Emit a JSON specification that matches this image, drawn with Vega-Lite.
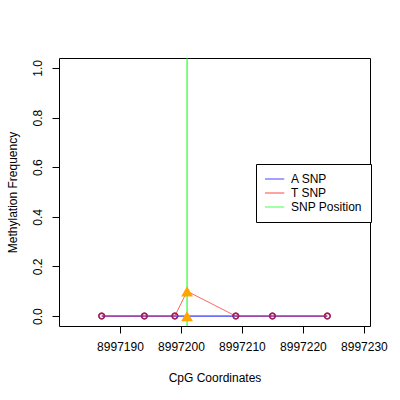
{
  "$schema": "https://vega.github.io/schema/vega-lite/v6.json",
  "autosize": "none",
  "width": 311,
  "height": 268,
  "padding": {"left": 59, "top": 58, "right": 30, "bottom": 74},
  "background": "white",
  "config": {
    "font": "Liberation Sans",
    "view": {"stroke": "black", "strokeWidth": 1},
    "axis": {
      "domain": false,
      "grid": false,
      "tickColor": "black",
      "tickSize": 7,
      "labelFont": "Liberation Sans",
      "labelFontSize": 12,
      "labelColor": "black",
      "titleFont": "Liberation Sans",
      "titleFontSize": 12,
      "titleFontWeight": "normal",
      "titleColor": "black"
    },
    "legend": {
      "labelFont": "Liberation Sans",
      "labelFontSize": 12,
      "labelColor": "black"
    }
  },
  "datasets": {
    "cpg": [
      {"pos": 8997187, "series": "A SNP", "value": 0},
      {"pos": 8997194, "series": "A SNP", "value": 0},
      {"pos": 8997199, "series": "A SNP", "value": 0},
      {"pos": 8997201, "series": "A SNP", "value": 0},
      {"pos": 8997209, "series": "A SNP", "value": 0},
      {"pos": 8997215, "series": "A SNP", "value": 0},
      {"pos": 8997224, "series": "A SNP", "value": 0},
      {"pos": 8997187, "series": "T SNP", "value": 0},
      {"pos": 8997194, "series": "T SNP", "value": 0},
      {"pos": 8997199, "series": "T SNP", "value": 0},
      {"pos": 8997201, "series": "T SNP", "value": 0.1},
      {"pos": 8997209, "series": "T SNP", "value": 0},
      {"pos": 8997215, "series": "T SNP", "value": 0},
      {"pos": 8997224, "series": "T SNP", "value": 0}
    ],
    "snp": [{"pos": 8997201, "label": "SNP Position"}]
  },
  "layer": [
    {
      "data": {"name": "snp"},
      "mark": {"type": "rule", "strokeWidth": 1},
      "encoding": {
        "x": {"field": "pos", "type": "quantitative", "title": "CpG Coordinates"},
        "color": {"field": "label", "type": "nominal"}
      }
    },
    {
      "data": {"name": "cpg"},
      "transform": [{"filter": "datum.series == 'A SNP'"}],
      "mark": {"type": "line", "strokeWidth": 1},
      "encoding": {
        "x": {"field": "pos", "type": "quantitative", "title": "CpG Coordinates"},
        "y": {"field": "value", "type": "quantitative", "title": "Methylation Frequency"},
        "color": {"field": "series", "type": "nominal"},
        "order": {"field": "pos"}
      }
    },
    {
      "data": {"name": "cpg"},
      "transform": [{"filter": "datum.series == 'T SNP'"}],
      "mark": {"type": "line", "strokeWidth": 1, "opacity": 0.6},
      "encoding": {
        "x": {"field": "pos", "type": "quantitative", "title": "CpG Coordinates"},
        "y": {"field": "value", "type": "quantitative", "title": "Methylation Frequency"},
        "color": {"field": "series", "type": "nominal"},
        "order": {"field": "pos"}
      }
    },
    {
      "data": {"name": "cpg"},
      "transform": [{"filter": "datum.pos != 8997201"}],
      "mark": {"type": "point", "shape": "circle", "filled": false, "size": 32, "strokeWidth": 1.3, "color": "#a0205a", "opacity": 1},
      "encoding": {
        "x": {"field": "pos", "type": "quantitative", "title": "CpG Coordinates"},
        "y": {"field": "value", "type": "quantitative", "title": "Methylation Frequency"}
      }
    },
    {
      "data": {"name": "cpg"},
      "transform": [{"filter": "datum.pos == 8997201"}],
      "mark": {"type": "point", "shape": "triangle-up", "filled": true, "size": 140, "color": "#ffa500", "opacity": 1},
      "encoding": {
        "x": {"field": "pos", "type": "quantitative", "title": "CpG Coordinates"},
        "y": {"field": "value", "type": "quantitative", "title": "Methylation Frequency"}
      }
    },
    {
      "data": {"name": "cpg"},
      "mark": {"type": "point", "opacity": 0},
      "encoding": {
        "x": {
          "field": "pos",
          "type": "quantitative",
          "title": "CpG Coordinates",
          "scale": {"domain": [8997180, 8997231], "nice": false, "zero": false},
          "axis": {"values": [8997190, 8997200, 8997210, 8997220, 8997230], "format": "d", "labelPadding": 8, "titlePadding": 20}
        },
        "y": {
          "field": "value",
          "type": "quantitative",
          "title": "Methylation Frequency",
          "scale": {"domain": [-0.04, 1.04], "nice": false, "zero": false},
          "axis": {"values": [0, 0.2, 0.4, 0.6, 0.8, 1.0], "format": ".1f", "labelAngle": -90, "labelAlign": "center", "labelBaseline": "bottom", "labelPadding": 8, "titlePadding": 12}
        },
        "color": {
          "field": "series",
          "type": "nominal",
          "scale": {"domain": ["A SNP", "T SNP", "SNP Position"], "range": ["#0000ff", "#ff0000", "#00ff00"]},
          "legend": {
            "title": null,
            "orient": "none",
            "legendX": 197,
            "legendY": 106,
            "symbolType": "stroke",
            "symbolSize": 600,
            "symbolStrokeWidth": 1.2,
            "symbolOpacity": 1,
            "symbolOffset": -6,
            "labelOffset": 6,
            "clipHeight": 12,
            "strokeColor": "black",
            "fillColor": "white",
            "padding": 9,
            "rowPadding": 2
          }
        }
      }
    }
  ]
}
